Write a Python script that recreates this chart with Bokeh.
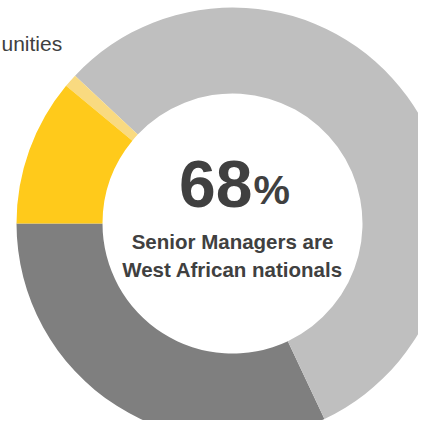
import numpy as np
from bokeh.plotting import figure
from bokeh.models import ColumnDataSource, Range1d
from bokeh.core.properties import value
from bokeh.embed import file_html
from bokeh.resources import INLINE

# Data (percent shares), drawn counterclockwise starting at the left (180 deg)
categories = ["Other nationals", "West African nationals (A)", "West African nationals (B)", "Communities"]
shares = [32, 56, 1, 11]
colors = ["#7F7F7F", "#BFBFBF", "#F9DA80", "#FFCA1B"]
headline = "68"
headline_unit = "%"
subtitle = ["Senior Managers are", "West African nationals"]
side_label = "unities"

W, H = 418, 420
p = figure(width=W, height=H, output_backend="svg", toolbar_location=None,
           x_range=Range1d(0, W), y_range=Range1d(436 - H, 436),
           min_border=0, outline_line_color=None)
p.axis.visible = False
p.grid.visible = False
p.background_fill_color = "white"
p.border_fill_color = "white"

cx, cy = 232, 213
r_in, r_out = 130, 216

total = float(sum(shares))
ang = np.array(shares) / total * 2 * np.pi
start0 = np.pi
ends = start0 + np.cumsum(ang)
starts = ends - ang
src = ColumnDataSource(dict(cat=categories, start=starts, end=ends, color=colors,
                            x=[cx] * 4, y=[cy] * 4))
p.annular_wedge(x="x", y="y", inner_radius=r_in, outer_radius=r_out,
                start_angle="start", end_angle="end", color="color",
                line_color=None, source=src)

font = value("Liberation Sans")
p.text(x=[cx + 20], y=[cy + 40], text=[headline], text_font=font, text_font_style="bold",
       text_font_size="66px", text_color="#404040", text_align="right", text_baseline="middle")
p.text(x=[cx + 21], y=[cy + 34], text=[headline_unit], text_font=font, text_font_style="bold",
       text_font_size="41px", text_color="#404040", text_align="left", text_baseline="middle")
p.text(x=[cx, cx], y=[cy - 17.5, cy - 45.5], text=subtitle, text_font=font, text_font_style="bold",
       text_font_size="20.5px", text_color="#404040", text_align="center", text_baseline="middle")
p.text(x=[1], y=[436 - 43], text=[side_label], text_font=font,
       text_font_size="21px", text_color="#404040", text_align="left", text_baseline="middle")

open("out.html", "w").write(file_html(p, INLINE))
